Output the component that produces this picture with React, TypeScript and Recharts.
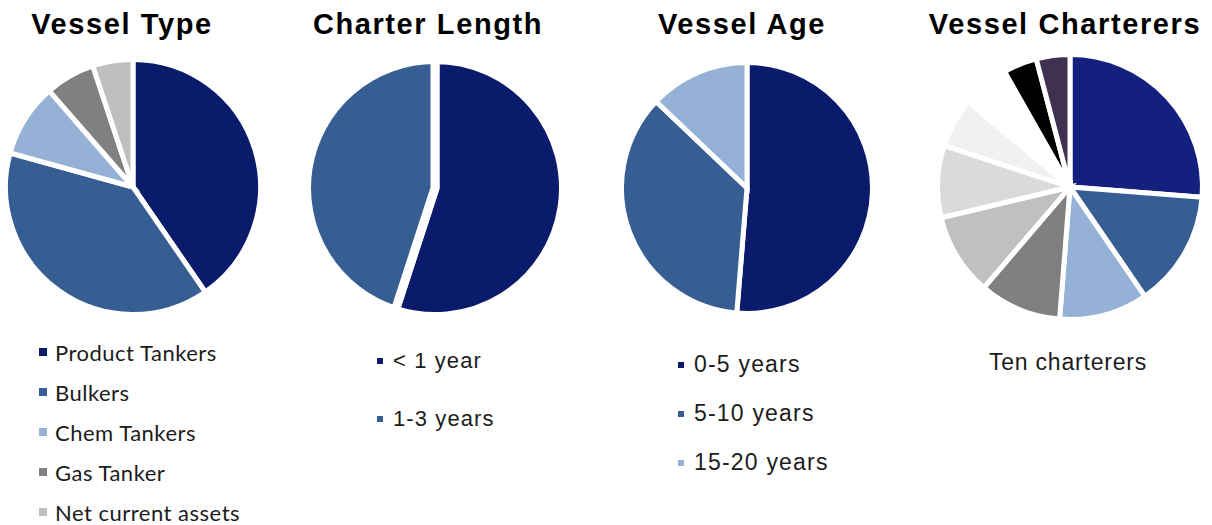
import { PieChart, Pie, Cell, Legend } from "recharts";

const vesselTypeNames = ["Product Tankers", "Bulkers", "Chem Tankers", "Gas Tanker", "Net current assets"];
const vesselTypeValues = [40.4, 38.9, 9.3, 6.3, 5.1];
const vesselTypeColors = ["#0b1b6b", "#365e93", "#95b2d6", "#808080", "#bfbfbf"];

const charterLengthNames = ["< 1 year", "1-3 years"];
const charterLengthValues = [55, 45];
const charterLengthColors = ["#0b1b6b", "#365e93"];

const vesselAgeNames = ["0-5 years", "5-10 years", "15-20 years"];
const vesselAgeValues = [51.3, 35.8, 12.9];
const vesselAgeColors = ["#0b1b6b", "#365e93", "#95b2d6"];

const chartererNames = [
  "Charterer 1", "Charterer 2", "Charterer 3", "Charterer 4", "Charterer 5",
  "Charterer 6", "Charterer 7", "Charterer 8", "Charterer 9", "Charterer 10",
];
const chartererValues = [26.2, 14.2, 10.8, 10.0, 10.0, 8.8, 6.0, 5.7, 4.1, 4.1];
const chartererColors = [
  "#14207e", "#365e93", "#95b2d6", "#808080", "#c0c0c0",
  "#dadada", "#f1f1f1", "#ffffff", "#000000", "#3f3152",
];

const toRows = (names: string[], values: number[]) => names.map((name, i) => ({ name, value: values[i] }));

type LegendOpts = { font: string; size: number; spacing: number; rowH: number; box: number; gap: number };

// recharts sorts legend items by name; put them back in slice order
const legendContent = (o: LegendOpts, order: string[]) => (props: any) => {
  const items = [...(props.payload || [])].sort((a: any, b: any) => order.indexOf(a.value) - order.indexOf(b.value));
  return (
    <ul style={{ listStyle: "none", margin: 0, padding: 0 }}>
      {items.map((p: any) => (
        <li key={p.value} style={{ height: o.rowH, display: "flex", alignItems: "center" }}>
          <span style={{ width: o.box, height: o.box, background: p.color, marginRight: o.gap, flex: "none" }} />
          <span style={{ fontFamily: o.font, fontSize: o.size, letterSpacing: o.spacing, color: "#1c1c1c", whiteSpace: "nowrap" }}>
            {p.value}
          </span>
        </li>
      ))}
    </ul>
  );
};

type PanelProps = {
  left: number;
  title: string;
  titleX: number;
  names: string[];
  values: number[];
  colors: string[];
  cx: number;
  cy: number;
  r: number;
  gap: number;
  legend?: { top: number; left: number; opts: LegendOpts };
  note?: { text: string; x: number; y: number };
};

function Panel({ left, title, titleX, names, values, colors, cx, cy, r, gap, legend, note }: PanelProps) {
  const data = toRows(names, values);
  return (
    <div style={{ position: "absolute", left, top: 0, width: 303, height: 525 }}>
      <div
        style={{
          position: "absolute", left: titleX - 160, width: 320, top: 10, textAlign: "center",
          fontFamily: "'Liberation Sans', Arial, sans-serif", fontWeight: 700, fontSize: 29,
          lineHeight: "29px", letterSpacing: 1.6, color: "#000", whiteSpace: "nowrap",
        }}
      >
        {title}
      </div>
      <PieChart width={303} height={525} margin={{ top: 0, right: 0, bottom: 0, left: 0 }}>
        <Pie
          data={data}
          dataKey="value"
          nameKey="name"
          cx={cx}
          cy={cy}
          outerRadius={r + gap / 2}
          startAngle={90}
          endAngle={-270}
          stroke="#ffffff"
          strokeWidth={gap}
          isAnimationActive={false}
        >
          {data.map((d, i) => (
            <Cell key={d.name} fill={colors[i]} />
          ))}
        </Pie>
        {legend && (
          <Legend
            layout="vertical"
            verticalAlign="bottom"
            align="center"
            wrapperStyle={{ top: legend.top, left: legend.left, bottom: "auto", width: "auto" }}
            content={legendContent(legend.opts, names)}
          />
        )}
      </PieChart>
      {note && (
        <div
          style={{
            position: "absolute", left: note.x - 120, width: 240, top: note.y - 15, lineHeight: "30px",
            textAlign: "center", fontFamily: "'Liberation Sans', Arial, sans-serif", fontSize: 23,
            letterSpacing: 0.8, color: "#1c1c1c",
          }}
        >
          {note.text}
        </div>
      )}
    </div>
  );
}

export default function App() {
  return (
    <div style={{ position: "absolute", left: 0, top: 0, width: 1212, height: 525, background: "#fff", overflow: "hidden" }}>
      <Panel
        left={0}
        title="Vessel Type"
        titleX={122}
        names={vesselTypeNames}
        values={vesselTypeValues}
        colors={vesselTypeColors}
        cx={133}
        cy={187}
        r={125}
        gap={5}
        legend={{ top: 332, left: 39, opts: { font: "Lato, 'Open Sans', sans-serif", size: 22, spacing: 0.5, rowH: 40, box: 8, gap: 8 } }}
      />
      <Panel
        left={303}
        title="Charter Length"
        titleX={125}
        names={charterLengthNames}
        values={charterLengthValues}
        colors={charterLengthColors}
        cx={132}
        cy={188}
        r={124}
        gap={9}
        legend={{ top: 332, left: 74, opts: { font: "'Liberation Sans', Arial, sans-serif", size: 22, spacing: 1.1, rowH: 58, box: 6, gap: 10 } }}
      />
      <Panel
        left={606}
        title="Vessel Age"
        titleX={136}
        names={vesselAgeNames}
        values={vesselAgeValues}
        colors={vesselAgeColors}
        cx={141}
        cy={188}
        r={123}
        gap={5}
        legend={{ top: 340, left: 72, opts: { font: "'Liberation Sans', Arial, sans-serif", size: 23, spacing: 1.2, rowH: 49, box: 6, gap: 10 } }}
      />
      <Panel
        left={909}
        title="Vessel Charterers"
        titleX={156}
        names={chartererNames}
        values={chartererValues}
        colors={chartererColors}
        cx={161}
        cy={187}
        r={130}
        gap={5}
        note={{ text: "Ten charterers", x: 159, y: 362 }}
      />
    </div>
  );
}
